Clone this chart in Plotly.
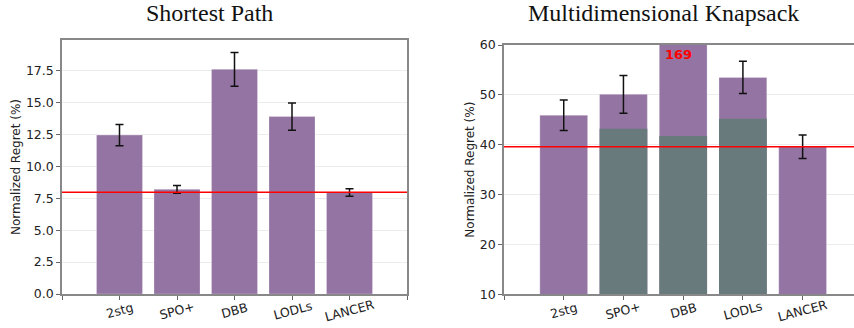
import plotly.graph_objects as go

categories = ["2stg", "SPO+", "DBB", "LODLs", "LANCER"]
positions = [1, 2, 3, 4, 5]

# Shortest Path
sp_values = [12.45, 8.2, 17.6, 13.9, 7.95]
sp_errors = [0.83, 0.3, 1.33, 1.07, 0.3]
sp_ref = 7.97

# Multidimensional Knapsack
mk_values = [45.9, 50.1, 169.0, 53.5, 39.6]
mk_errors = [3.05, 3.8, 0.0, 3.25, 2.35]
mk_gray_cats = [2, 3, 4]
mk_gray_values = [43.2, 41.75, 45.2]
mk_ref = 39.6
mk_label = "169"

PURPLE = "#9474a3"
GRAY = "#687a7c"
W, H = 854, 328

fig = go.Figure()

err_style = dict(type="data", visible=True, color="#111111", thickness=1.5, width=4)
bar_line = dict(color="rgba(255,255,255,0.25)", width=1)

fig.add_trace(go.Bar(x=positions, y=sp_values, width=0.8, marker=dict(color=PURPLE, line=bar_line),
                     error_y=dict(array=sp_errors, **err_style), xaxis="x", yaxis="y", showlegend=False))
fig.add_trace(go.Bar(x=positions, y=mk_values, width=0.8, marker=dict(color=PURPLE, line=bar_line),
                     error_y=dict(array=mk_errors, **err_style), xaxis="x2", yaxis="y2", showlegend=False))
fig.add_trace(go.Bar(x=mk_gray_cats, y=mk_gray_values, width=0.8, marker=dict(color=GRAY, line=dict(width=0)),
                     xaxis="x2", yaxis="y2", showlegend=False))

# red reference lines
fig.add_trace(go.Scatter(x=[0, 6], y=[sp_ref, sp_ref], mode="lines", line=dict(color="#ff0000", width=1.5),
                         xaxis="x", yaxis="y", showlegend=False, hoverinfo="skip"))
fig.add_trace(go.Scatter(x=[0, 6], y=[mk_ref, mk_ref], mode="lines", line=dict(color="#ff0000", width=1.5),
                         xaxis="x2", yaxis="y2", showlegend=False, hoverinfo="skip"))

tickfont = dict(family="DejaVu Sans", size=12.5, color="#222222")
axis_common = dict(showline=True, linecolor="#888888", linewidth=1.5, mirror=True, ticks="outside",
                   ticklen=4, tickcolor="#666666", tickwidth=1, tickfont=tickfont, zeroline=False,
                   automargin=False)
ytitle_font = dict(family="DejaVu Sans", size=12, color="#222222")

xt_vals = [0, 1, 2, 3, 4, 5, 6]
xt_text = [""] * 7

annotations = [
    dict(text="Shortest Path", x=209 / W, y=1 - 13 / H, xref="paper", yref="paper", showarrow=False,
         xanchor="center", yanchor="middle", font=dict(family="Liberation Serif", size=24, color="#111111")),
    dict(text="Multidimensional Knapsack", x=663 / W, y=1 - 13 / H, xref="paper", yref="paper", showarrow=False,
         xanchor="center", yanchor="middle", font=dict(family="Liberation Serif", size=24, color="#111111")),
    dict(text="<b>" + mk_label + "</b>", x=2.92, y=58, xref="x2", yref="y2", showarrow=False,
         xanchor="center", yanchor="middle", font=dict(family="DejaVu Sans", size=13, color="#ff0000")),
]
# rotated category labels centred under ticks
for xr in ["x", "x2"]:
    for p, c in zip(positions, categories):
        annotations.append(dict(text=c, x=p, y=1 - 310 / H, xref=xr, yref="paper", showarrow=False,
                                textangle=-15, xanchor="center", yanchor="middle", font=tickfont))

fig.update_layout(
    width=W, height=H, margin=dict(l=0, r=0, t=0, b=0),
    plot_bgcolor="white", paper_bgcolor="white", barmode="overlay",
    xaxis=dict(domain=[62 / W, 407 / W], range=[0, 6], tickvals=xt_vals, ticktext=xt_text,
               showgrid=False, anchor="y", **axis_common),
    yaxis=dict(domain=[1 - 294 / H, 1 - 40 / H], range=[0, 19.9], tickvals=[0, 2.5, 5, 7.5, 10, 12.5, 15, 17.5],
               ticktext=["0.0", "2.5", "5.0", "7.5", "10.0", "12.5", "15.0", "17.5"],
               showgrid=True, gridcolor="#ececec", gridwidth=1, anchor="x",
               title=dict(text="Normalized Regret (%)", font=ytitle_font, standoff=3),
               **axis_common),
    xaxis2=dict(domain=[504 / W, 1.0], range=[0, 5.86], tickvals=xt_vals, ticktext=xt_text,
                showgrid=False, anchor="y2", **axis_common),
    yaxis2=dict(domain=[1 - 294.3 / H, 1 - 45 / H], range=[10, 60], tickvals=[10, 20, 30, 40, 50, 60],
                showgrid=True, gridcolor="#ececec", gridwidth=1, anchor="x2",
                title=dict(text="Normalized Regret (%)", font=ytitle_font, standoff=3),
                **axis_common),
    annotations=annotations,
)

fig.write_html("out.html")
